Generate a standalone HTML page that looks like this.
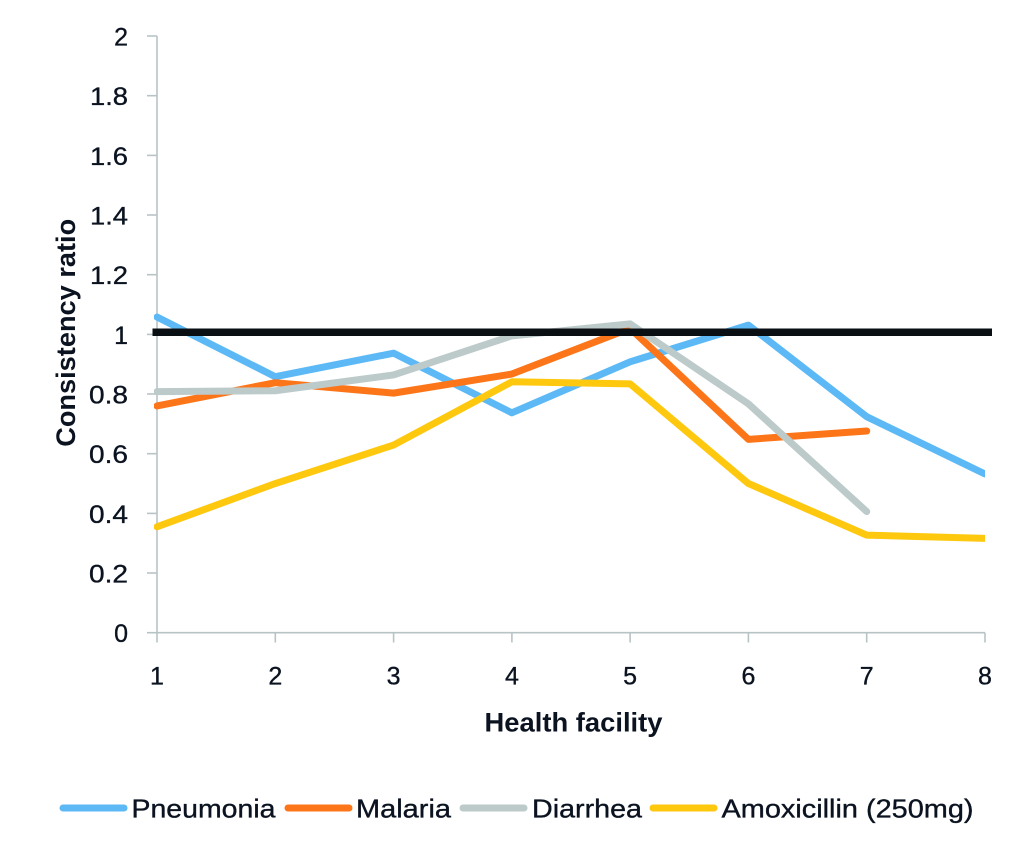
<!DOCTYPE html>
<html>
<head>
<meta charset="utf-8">
<style>
  html, body { margin: 0; padding: 0; background: #ffffff; }
  svg { display: block; }
  text { font-family: "Liberation Sans", sans-serif; fill: #0b1320; }
</style>
</head>
<body>
<svg width="1024" height="856" viewBox="0 0 1024 856" xmlns="http://www.w3.org/2000/svg">
  <defs>
    <clipPath id="plot">
      <rect x="154" y="20" width="831" height="620"/>
    </clipPath>
  </defs>
  <rect width="1024" height="856" fill="#ffffff"/>

  <!-- axes -->
  <g stroke="#b8c3c6" stroke-width="1.6" fill="none">
    <line x1="157" y1="36" x2="157" y2="633"/>
    <line x1="157" y1="632.7" x2="985" y2="632.7"/>
    <!-- y ticks -->
    <line x1="147" y1="36" x2="157" y2="36"/>
    <line x1="147" y1="95.7" x2="157" y2="95.7"/>
    <line x1="147" y1="155.4" x2="157" y2="155.4"/>
    <line x1="147" y1="215.0" x2="157" y2="215.0"/>
    <line x1="147" y1="274.7" x2="157" y2="274.7"/>
    <line x1="147" y1="334.4" x2="157" y2="334.4"/>
    <line x1="147" y1="394.0" x2="157" y2="394.0"/>
    <line x1="147" y1="453.7" x2="157" y2="453.7"/>
    <line x1="147" y1="513.4" x2="157" y2="513.4"/>
    <line x1="147" y1="573.0" x2="157" y2="573.0"/>
    <line x1="147" y1="632.7" x2="157" y2="632.7"/>
    <!-- x ticks -->
    <line x1="157" y1="632.7" x2="157" y2="642.5"/>
    <line x1="275.3" y1="632.7" x2="275.3" y2="642.5"/>
    <line x1="393.6" y1="632.7" x2="393.6" y2="642.5"/>
    <line x1="511.9" y1="632.7" x2="511.9" y2="642.5"/>
    <line x1="630.1" y1="632.7" x2="630.1" y2="642.5"/>
    <line x1="748.4" y1="632.7" x2="748.4" y2="642.5"/>
    <line x1="866.7" y1="632.7" x2="866.7" y2="642.5"/>
    <line x1="985" y1="632.7" x2="985" y2="642.5"/>
  </g>

  <!-- y tick labels -->
  <g font-size="25" text-anchor="end" stroke="#0b1320" stroke-width="0.35">
    <text x="128" y="45.5">2</text>
    <text x="128" y="105.2" textLength="38" lengthAdjust="spacingAndGlyphs">1.8</text>
    <text x="128" y="164.9" textLength="38" lengthAdjust="spacingAndGlyphs">1.6</text>
    <text x="128" y="224.5" textLength="38" lengthAdjust="spacingAndGlyphs">1.4</text>
    <text x="128" y="284.2" textLength="38" lengthAdjust="spacingAndGlyphs">1.2</text>
    <text x="128" y="343.9">1</text>
    <text x="128" y="403.5" textLength="39" lengthAdjust="spacingAndGlyphs">0.8</text>
    <text x="128" y="463.2" textLength="39" lengthAdjust="spacingAndGlyphs">0.6</text>
    <text x="128" y="522.9" textLength="39" lengthAdjust="spacingAndGlyphs">0.4</text>
    <text x="128" y="582.5" textLength="39" lengthAdjust="spacingAndGlyphs">0.2</text>
    <text x="128" y="642.2">0</text>
  </g>

  <!-- x tick labels -->
  <g font-size="25" text-anchor="middle" stroke="#0b1320" stroke-width="0.35">
    <text x="157" y="684.5">1</text>
    <text x="275.3" y="684.5">2</text>
    <text x="393.6" y="684.5">3</text>
    <text x="511.9" y="684.5">4</text>
    <text x="630.1" y="684.5">5</text>
    <text x="748.4" y="684.5">6</text>
    <text x="866.7" y="684.5">7</text>
    <text x="985" y="684.5">8</text>
  </g>

  <!-- axis titles -->
  <text x="573.5" y="731.5" font-size="27" font-weight="bold" text-anchor="middle" textLength="178" lengthAdjust="spacingAndGlyphs">Health facility</text>
  <text transform="translate(75,332.8) rotate(-90)" x="0" y="0" font-size="27" font-weight="bold" text-anchor="middle" textLength="228" lengthAdjust="spacingAndGlyphs">Consistency ratio</text>

  <!-- series -->
  <g clip-path="url(#plot)" fill="none" stroke-width="7" stroke-linejoin="round" stroke-linecap="round">
    <polyline stroke="#5cb9f6" points="157,317.05 275.29,376.72 393.57,353.15 511.86,412.82 630.14,361.8 748.43,325.1 866.71,416.7 985,473.98"/>
    <polyline stroke="#fc7519" points="157,405.95 275.29,382.68 393.57,393.12 511.86,374.03 630.14,328.38 748.43,439.37 866.71,431.02"/>
    <polyline stroke="#bdcaca" points="157,391.63 275.29,390.74 393.57,374.93 511.86,335.84 630.14,323.91 748.43,403.87 866.71,511.57"/>
    <polyline stroke="#fec80f" points="157,526.79 275.29,483.52 393.57,445.04 511.86,381.79 630.14,383.88 748.43,483.52 866.71,535.14 985,538.42"/>
  </g>
  <line x1="152.5" y1="332.2" x2="992" y2="332.2" stroke="#0a0f14" stroke-width="7.5"/>

  <!-- legend -->
  <g stroke-width="7" stroke-linecap="round">
    <line x1="63" y1="808" x2="124" y2="808" stroke="#5cb9f6"/>
    <line x1="288" y1="808" x2="349" y2="808" stroke="#fc7519"/>
    <line x1="463" y1="808" x2="524" y2="808" stroke="#bdcaca"/>
    <line x1="653" y1="808" x2="714" y2="808" stroke="#fec80f"/>
  </g>
  <g font-size="26" stroke="#0b1320" stroke-width="0.35">
    <text x="131.5" y="817.3" textLength="144" lengthAdjust="spacingAndGlyphs">Pneumonia</text>
    <text x="356" y="817.3" textLength="95" lengthAdjust="spacingAndGlyphs">Malaria</text>
    <text x="532" y="817.3" textLength="110" lengthAdjust="spacingAndGlyphs">Diarrhea</text>
    <text x="721.5" y="817.3" textLength="252" lengthAdjust="spacingAndGlyphs">Amoxicillin (250mg)</text>
  </g>
</svg>
</body>
</html>
